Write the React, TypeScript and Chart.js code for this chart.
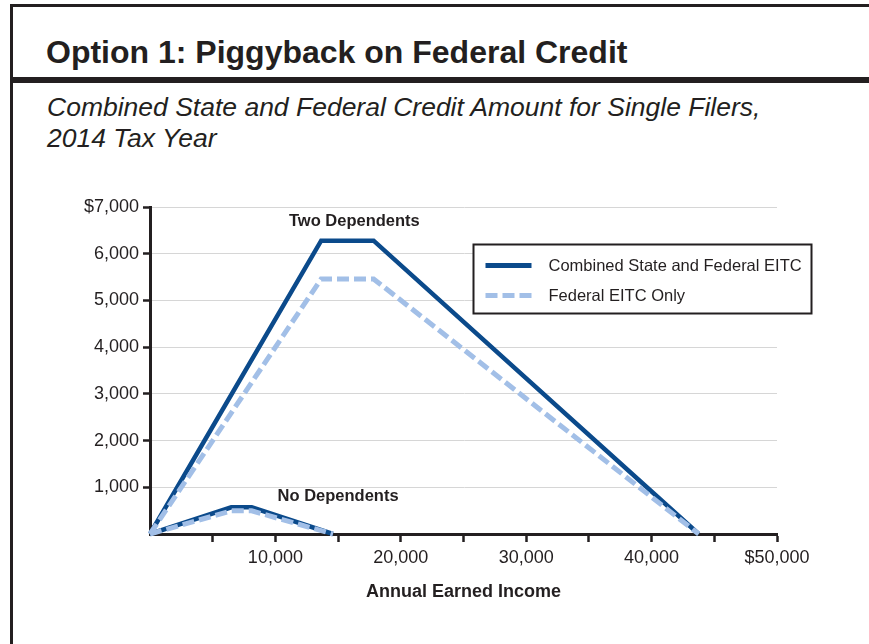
import React, { useEffect, useRef } from "react";
import { Chart, registerables } from "chart.js";

Chart.register(...registerables);

// ---- Data ----
const incomeTwo = [0, 13650, 17830, 43756];
const combinedTwo = [0, 6279, 6279, 0];
const federalTwo = [0, 5460, 5460, 0];

const incomeNone = [0, 6480, 8110, 14590];
const combinedNone = [0, 570, 570, 0];
const federalNone = [0, 496, 496, 0];

const yTickLabels = ["", "1,000", "2,000", "3,000", "4,000", "5,000", "6,000", "$7,000"];
const xTickLabels = ["", "", "10,000", "", "20,000", "", "30,000", "", "40,000", "", "$50,000"];

const seriesNames = ["Combined State and Federal EITC", "Federal EITC Only"];
const annotations = [
  { text: "Two Dependents", x: 16300, y: 6700 },
  { text: "No Dependents", x: 15000, y: 800 },
];

const TITLE = "Option 1: Piggyback on Federal Credit";
const SUBTITLE1 = "Combined State and Federal Credit Amount for Single Filers,";
const SUBTITLE2 = "2014 Tax Year";
const X_TITLE = "Annual Earned Income";

const DARK = "#0b4a8b";
const LIGHT = "#a2bfe7";
const INK = "#231f20";
const FONT = '"Liberation Sans", Arial, Helvetica, sans-serif';
const DASH = [12, 5];

const toPts = (xs: number[], ys: number[]) => xs.map((x, i) => ({ x, y: ys[i] }));

export default function App() {
  const ref = useRef<HTMLCanvasElement | null>(null);

  useEffect(() => {
    if (!ref.current) return;
    const overlay = {
      id: "overlay",
      afterDraw(chart: any) {
        const { ctx, chartArea, scales } = chart;
        ctx.save();
        // annotations
        ctx.fillStyle = INK;
        ctx.font = `bold 16.5px ${FONT}`;
        ctx.textAlign = "center";
        ctx.textBaseline = "middle";
        annotations.forEach((a) => {
          ctx.fillText(a.text, scales.x.getPixelForValue(a.x), scales.y.getPixelForValue(a.y));
        });
        // x title
        ctx.font = `bold 18px ${FONT}`;
        ctx.fillText(X_TITLE, (chartArea.left + chartArea.right) / 2, chartArea.bottom + 58);
        // legend
        const bx = chartArea.left + 323.5;
        const by = chartArea.top + 37.5;
        const bw = 338;
        const bh = 69;
        ctx.fillStyle = "#fff";
        ctx.fillRect(bx, by, bw, bh);
        ctx.strokeStyle = INK;
        ctx.lineWidth = 2;
        ctx.strokeRect(bx, by, bw, bh);
        const rows = [
          { y: by + 21, color: DARK, dash: [] as number[] },
          { y: by + 51, color: LIGHT, dash: DASH },
        ];
        rows.forEach((r, i) => {
          ctx.beginPath();
          ctx.setLineDash(r.dash);
          ctx.strokeStyle = r.color;
          ctx.lineWidth = 5;
          ctx.moveTo(bx + 12, r.y);
          ctx.lineTo(bx + 58, r.y);
          ctx.stroke();
          ctx.setLineDash([]);
          ctx.fillStyle = INK;
          ctx.font = `16.5px ${FONT}`;
          ctx.textAlign = "left";
          ctx.fillText(seriesNames[i], bx + 75, r.y + 1);
        });
        ctx.restore();
      },
    };

    const chart = new Chart(ref.current, {
      type: "line",
      data: {
        datasets: [
          {
            label: seriesNames[0],
            data: toPts(incomeTwo, combinedTwo),
            borderColor: DARK,
            borderWidth: 4.5,
            pointRadius: 0,
            order: 2,
          },
          {
            label: seriesNames[1],
            data: toPts(incomeTwo, federalTwo),
            borderColor: LIGHT,
            borderWidth: 5,
            borderDash: DASH,
            pointRadius: 0,
            order: 1,
          },
          {
            label: seriesNames[0] + " (none)",
            data: toPts(incomeNone, combinedNone),
            borderColor: DARK,
            borderWidth: 4.5,
            pointRadius: 0,
            order: 2,
          },
          {
            label: seriesNames[1] + " (none)",
            data: toPts(incomeNone, federalNone),
            borderColor: LIGHT,
            borderWidth: 5,
            borderDash: DASH,
            pointRadius: 0,
            order: 1,
          },
        ],
      },
      options: {
        responsive: false,
        animation: false,
        clip: false as any,
        layout: { padding: { top: 27, right: 92, left: 0, bottom: 0 } },
        plugins: { legend: { display: false }, tooltip: { enabled: false }, title: { display: false } },
        scales: {
          x: {
            type: "linear",
            min: 0,
            max: 50000,
            afterFit: (s: any) => {
              s.height = 110;
            },
            border: { display: true, color: INK, width: 3 },
            grid: {
              drawOnChartArea: false,
              drawTicks: true,
              tickLength: 8,
              tickWidth: 2.5,
              tickColor: (c: any) => (c.tick && c.tick.value === 0 ? "rgba(0,0,0,0)" : INK),
            },
            ticks: {
              stepSize: 5000,
              autoSkip: false,
              maxRotation: 0,
              padding: 5,
              color: INK,
              font: { size: 18, family: FONT },
              callback: (_v: any, i: number) => xTickLabels[i],
            },
          },
          y: {
            min: 0,
            max: 7000,
            afterFit: (s: any) => {
              s.width = 150;
            },
            border: { display: true, color: INK, width: 3 },
            grid: {
              color: (c: any) => (c.tick && c.tick.value === 0 ? "rgba(0,0,0,0)" : "#d6d6d6"),
              lineWidth: 1,
              drawTicks: true,
              tickLength: 7,
              tickWidth: 2.5,
              tickColor: (c: any) => (c.tick && c.tick.value === 0 ? "rgba(0,0,0,0)" : INK),
            },
            ticks: {
              stepSize: 1000,
              autoSkip: false,
              padding: 4,
              color: INK,
              font: { size: 18, family: FONT },
              callback: (_v: any, i: number) => yTickLabels[i],
            },
          },
        },
      },
      plugins: [overlay],
    } as any);
    return () => chart.destroy();
  }, []);

  return (
    <div
      style={{
        position: "fixed",
        left: 0,
        top: 0,
        width: 869,
        height: 644,
        background: "#fff",
        overflow: "hidden",
        fontFamily: FONT,
        color: INK,
      }}
    >
      <div style={{ position: "absolute", left: 10, top: 4, width: 3, height: 640, background: INK }} />
      <div style={{ position: "absolute", left: 10, top: 4, width: 859, height: 2.5, background: INK }} />
      <div style={{ position: "absolute", left: 10, top: 77, width: 859, height: 6, background: INK }} />
      <div
        style={{
          position: "absolute",
          left: 46,
          top: 33,
          fontSize: 32,
          fontWeight: "bold",
          lineHeight: "38px",
          whiteSpace: "nowrap",
        }}
      >
        {TITLE}
      </div>
      <div
        style={{
          position: "absolute",
          left: 47,
          top: 92,
          fontSize: 26.5,
          fontStyle: "italic",
          lineHeight: "31px",
          whiteSpace: "nowrap",
        }}
      >
        <div>{SUBTITLE1}</div>
        <div>{SUBTITLE2}</div>
      </div>
      <canvas
        ref={ref}
        width={869}
        height={464}
        style={{ position: "absolute", left: 0, top: 180, width: 869, height: 464 }}
      />
    </div>
  );
}
